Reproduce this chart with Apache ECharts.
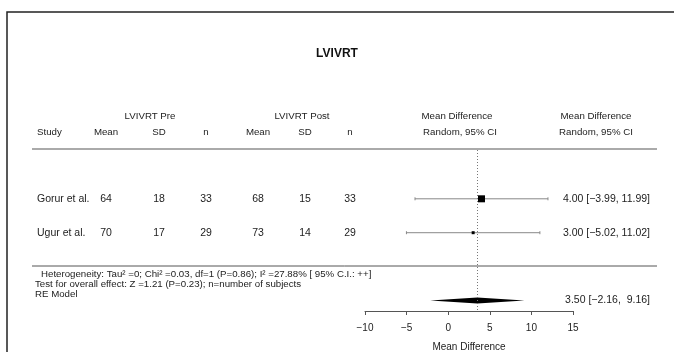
<!DOCTYPE html>
<html>
<head>
<meta charset="UTF-8">
<title>LVIVRT forest plot</title>
<script src="https://cdn.jsdelivr.net/npm/echarts@6/dist/echarts.min.js"></script>
<style>
  html, body { margin: 0; padding: 0; background: #fff; }
  #chart { width: 674px; height: 352px; }
</style>
</head>
<body>
<div id="chart"></div>
<script type="text/javascript">
// study table
var studies = ['Gorur et al.', 'Ugur et al.'];
var preMean = [64, 70];
var preSD = [18, 17];
var preN = [33, 29];
var postMean = [68, 73];
var postSD = [15, 14];
var postN = [33, 29];
// mean difference + 95% CI
var md = [4.00, 3.00];
var ciLow = [-3.99, -5.02];
var ciHigh = [11.99, 11.02];
var studyRow = [1, 2];
// RE model
var pooledEst = 3.50;
var pooledLow = -2.16;
var pooledHigh = 9.16;
var pooledRow = 4;
var xTicks = [-10, -5, 0, 5, 10, 15];

var FONT = '"Liberation Sans", Arial, Helvetica, sans-serif';
var boxSize = [7, 3];
var colX = [37, 106, 159, 206, 258, 305, 350];

function minus(s) { return String(s).replace(/-/g, '\u2212'); }
function ciText(e, l, h) {
  var hs = h.toFixed(2);
  if (hs.length < 5) hs = ' ' + hs;
  return minus(e.toFixed(2) + ' [' + l.toFixed(2) + ', ' + hs + ']');
}

function renderStudy(params, api) {
  var i = params.dataIndex;
  var y = api.coord([0, api.value(1)])[1];
  var xm = api.coord([api.value(0), 0])[0];
  var xl = api.coord([api.value(2), 0])[0];
  var xh = api.coord([api.value(3), 0])[0];
  var s = boxSize[i];
  var txt = { fontFamily: FONT, fontSize: 10.5, fill: '#222', verticalAlign: 'middle' };
  var cells = [studies[i], preMean[i], preSD[i], preN[i], postMean[i], postSD[i], postN[i]];
  var children = [
    { type: 'line', shape: { x1: xl, y1: y, x2: xh, y2: y }, style: { stroke: '#888', lineWidth: 1 } },
    { type: 'line', shape: { x1: xl, y1: y - 1.5, x2: xl, y2: y + 1.5 }, style: { stroke: '#888', lineWidth: 1 } },
    { type: 'line', shape: { x1: xh, y1: y - 1.5, x2: xh, y2: y + 1.5 }, style: { stroke: '#888', lineWidth: 1 } },
    { type: 'rect', shape: { x: xm - s / 2, y: y - s / 2, width: s, height: s }, style: { fill: '#000' } },
    { type: 'text', style: Object.assign({ x: 650, y: y, text: ciText(md[i], ciLow[i], ciHigh[i]), align: 'right' }, txt) }
  ];
  for (var c = 0; c < cells.length; c++) {
    children.push({ type: 'text', style: Object.assign({ x: colX[c], y: y, text: String(cells[c]), align: c === 0 ? 'left' : 'center' }, txt) });
  }
  return { type: 'group', children: children };
}

function renderPooled(params, api) {
  var y = api.coord([0, api.value(1)])[1];
  var xm = api.coord([api.value(0), 0])[0];
  var xl = api.coord([api.value(2), 0])[0];
  var xh = api.coord([api.value(3), 0])[0];
  return { type: 'group', children: [
    { type: 'polygon', shape: { points: [[xl, y], [xm, y - 3], [xh, y], [xm, y + 3]] }, style: { fill: '#000' } },
    { type: 'text', style: { x: 650, y: y, text: ciText(api.value(0), api.value(2), api.value(3)), align: 'right',
      verticalAlign: 'middle', fontFamily: FONT, fontSize: 10.5, fill: '#222' } }
  ] };
}

var studyData = studies.map(function (s, i) { return [md[i], studyRow[i], ciLow[i], ciHigh[i]]; });

function hdr(x, y, text, align) {
  return { type: 'text', x: x, y: y, style: { text: text, fontFamily: FONT, fontSize: 9.7, fill: '#222',
    align: align || 'center', verticalAlign: 'middle' } };
}
function foot(x, y, text) {
  return { type: 'text', x: x, y: y, style: { text: text, fontFamily: FONT, fontSize: 9.7, fill: '#222', verticalAlign: 'middle' } };
}

var chart = echarts.init(document.getElementById('chart'));
chart.setOption({
  animation: false,
  title: {
    text: 'LVIVRT', left: 'center', top: 43,
    textStyle: { fontFamily: FONT, fontSize: 12, fontWeight: 'bold', color: '#111' }
  },
  grid: { left: 365, right: 101, top: 150, bottom: 41, outerBoundsMode: 'none' },
  xAxis: {
    type: 'value', min: -10, max: 15, interval: 5, position: 'bottom',
    axisLine: { onZero: false, lineStyle: { color: '#555', width: 1 } },
    axisTick: { length: 4, lineStyle: { color: '#555' } },
    axisLabel: { color: '#222', fontFamily: FONT, fontSize: 10, margin: 12,
      formatter: function (v) { return xTicks.indexOf(v) >= 0 ? minus(v) : ''; } },
    splitLine: { show: false },
    name: 'Mean Difference', nameLocation: 'middle', nameGap: 31,
    nameTextStyle: { color: '#222', fontFamily: FONT, fontSize: 10 }
  },
  yAxis: { type: 'value', inverse: true, min: -0.44, max: 4.31, show: false },
  series: [
    {
      type: 'custom', renderItem: renderStudy, data: studyData, clip: false,
      markLine: {
        silent: true, symbol: 'none', label: { show: false },
        lineStyle: { type: [1, 2], color: '#777', width: 1 },
        data: [{ xAxis: pooledEst }]
      }
    },
    { type: 'custom', renderItem: renderPooled, data: [[pooledEst, pooledRow, pooledLow, pooledHigh]], clip: false }
  ],
  graphic: [
    { type: 'rect', shape: { x: 7, y: 12, width: 700, height: 400 }, style: { fill: 'none', stroke: '#222', lineWidth: 1.5 } },
    { type: 'line', shape: { x1: 32, y1: 149, x2: 657, y2: 149 }, style: { stroke: '#aaa', lineWidth: 2 } },
    { type: 'line', shape: { x1: 32, y1: 266, x2: 657, y2: 266 }, style: { stroke: '#555', lineWidth: 1 } },
    hdr(150, 116, 'LVIVRT Pre'), hdr(302, 116, 'LVIVRT Post'),
    hdr(457, 116, 'Mean Difference'), hdr(596, 116, 'Mean Difference'),
    hdr(37, 132, 'Study', 'left'), hdr(106, 132, 'Mean'), hdr(159, 132, 'SD'), hdr(206, 132, 'n'),
    hdr(258, 132, 'Mean'), hdr(305, 132, 'SD'), hdr(350, 132, 'n'),
    hdr(460, 132, 'Random, 95% CI'), hdr(596, 132, 'Random, 95% CI'),
    foot(41, 274, 'Heterogeneity: Tau\u00b2 =0; Chi\u00b2 =0.03, df=1 (P=0.86); I\u00b2 =27.88% [ 95% C.I.: ++]'),
    foot(35, 284, 'Test for overall effect: Z =1.21 (P=0.23); n=number of subjects'),
    foot(35, 294, 'RE Model')
  ]
});
</script>
</body>
</html>
